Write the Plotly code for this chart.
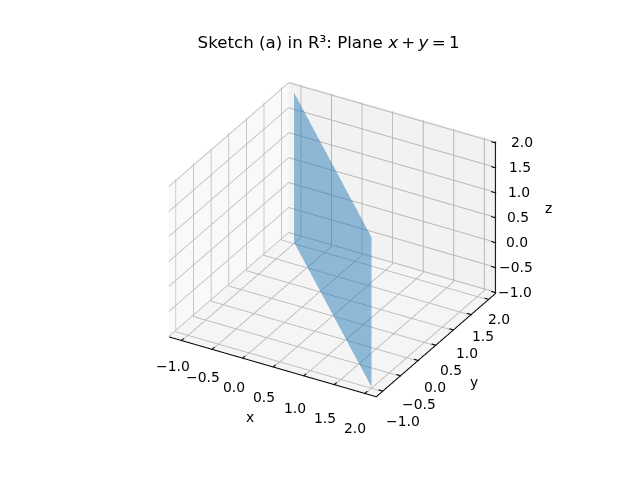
import plotly.graph_objects as go

plane_x = [[-1.0, -1.0], [2.0, 2.0]]
plane_y = [[2.0, 2.0], [-1.0, -1.0]]
plane_z = [[-1.0, 2.0], [-1.0, 2.0]]
tick_vals = [-1.0, -0.5, 0.0, 0.5, 1.0, 1.5, 2.0]
tick_text = ["\u22121.0", "\u22120.5", "0.0", "0.5", "1.0", "1.5", "2.0"]
title_text = "Sketch (a) in R\u00b3: Plane <i>x</i>\u2009+\u2009<i>y</i>\u2009=\u20091"

FONT = "DejaVu Sans"
LO, HI = -1.2, 2.2
ZLO, ZHI = -1.03, 2.03


def axis(bg, lo, hi):
    return dict(
        title=dict(text=""),
        range=[lo, hi],
        tickmode="array",
        tickvals=tick_vals,
        showticklabels=False,
        showbackground=True,
        backgroundcolor=bg,
        gridcolor="#b8b8b8",
        gridwidth=2,
        showline=False,
        ticks="",
        zeroline=False,
        showspikes=False,
        autorange=False,
    )


def note(x, y, z, text, dx, dy):
    return dict(
        x=x, y=y, z=z, text=text, showarrow=False,
        xshift=dx, yshift=dy, xanchor="center", yanchor="middle",
        font=dict(family=FONT, size=13.9, color="black"),
    )


fig = go.Figure(
    go.Surface(
        x=plane_x,
        y=plane_y,
        z=plane_z,
        surfacecolor=[[0, 0], [0, 0]],
        colorscale=[[0, "#1f77b4"], [1, "#1f77b4"]],
        opacity=0.48,
        showscale=False,
        hoverinfo="skip",
        lighting=dict(ambient=1, diffuse=0, specular=0, fresnel=0),
    )
)

# axis lines and ticks, kept just inside the box so the clip planes do not eat them
E = 0.012
YL, XH, YH, ZL = LO + E, HI - E, HI - E, ZLO + E
lx = [LO, XH, None, XH, XH, None, XH, XH]
ly = [YL, YL, None, YL, YH, None, YH, YH]
lz = [ZL, ZL, None, ZL, ZL, None, ZL, ZHI]
T = 0.07
for v in tick_vals:
    lx += [None, v, v, None, XH - T, XH, None, XH - T, XH]
    ly += [None, YL, YL + T, None, v, v, None, YH, YH]
    lz += [None, ZL, ZL, None, ZL, ZL, None, v, v]
fig.add_trace(go.Scatter3d(x=lx, y=ly, z=lz, mode="lines", line=dict(color="black", width=2),
                           hoverinfo="skip", showlegend=False))

annotations = []
n = len(tick_vals) - 1
for i, (v, t) in enumerate(zip(tick_vals, tick_text)):
    f = i / n
    annotations.append(note(v, LO, ZLO, t, -8 - 1 * f, -25 - 9 * f))
    annotations.append(note(HI, v, ZLO, t, 19 - 10 * f, -29 + 10 * f))
    annotations.append(note(HI, HI, v, t, 18 + 7 * f, 1))
annotations.append(note(0.5, LO, ZLO, "x", -23, -49))
annotations.append(note(HI, 0.5, ZLO, "y", 37, -36))
annotations.append(note(HI, HI, 0.5, "z", 52, 10))

fig.update_layout(
    width=640,
    height=480,
    paper_bgcolor="white",
    margin=dict(l=0, r=0, t=0, b=0),
    title=dict(
        text=title_text,
        x=0.501,
        xanchor="center",
        y=0.928,
        yanchor="middle",
        font=dict(family=FONT, size=16.67, color="black"),
    ),
    scene=dict(
        domain=dict(x=[0, 1], y=[0, 1]),
        xaxis=axis("#f9f9f9", LO, HI),
        yaxis=axis("#f2f2f2", LO, HI),
        zaxis=axis("#f5f5f5", ZLO, ZHI),
        aspectmode="manual",
        aspectratio=dict(x=1, y=1, z=0.735),
        annotations=annotations,
        camera=dict(
            eye=dict(x=1.036, y=-1.833, z=1.175),
            center=dict(x=-0.012, y=-0.018, z=-0.035),
            up=dict(x=0, y=0, z=1),
            projection=dict(type="orthographic"),
        ),
    ),
)
fig.write_html("out.html")
